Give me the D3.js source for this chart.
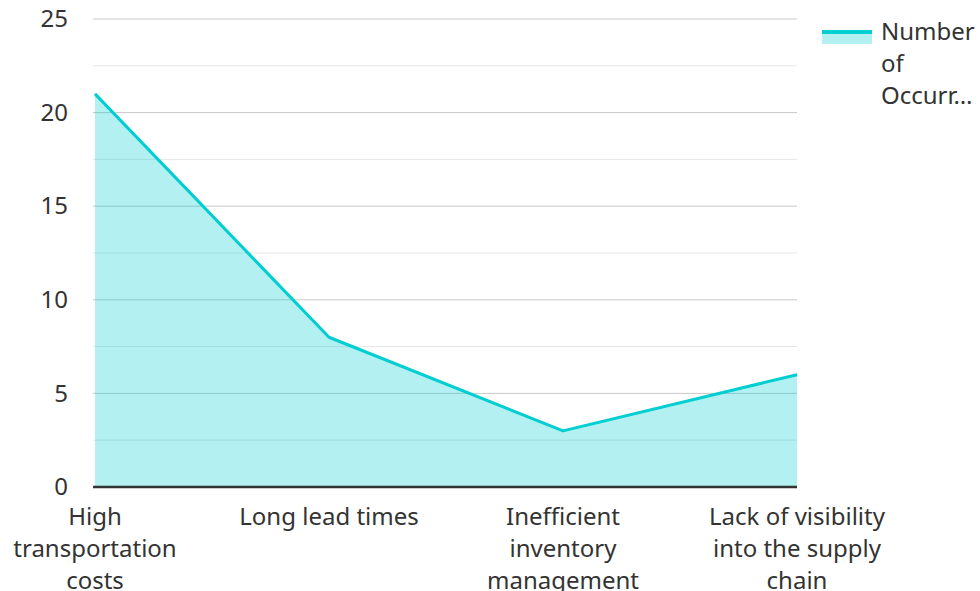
<!DOCTYPE html>
<html lang="en">
<head>
  <meta charset="UTF-8">
  <title>Number of Occurrences</title>
  <script src="https://d3js.org/d3.v7.min.js"></script>
  <style>
    body { margin: 0; background: #fff; }
    text { font-family: "Noto Sans", sans-serif; fill: #333; }
  </style>
</head>
<body>
  <div id="chart"></div>
  <script>
    // Data
    const categories = ["High transportation costs", "Long lead times", "Inefficient inventory management", "Lack of visibility into the supply chain"];
    const occurrences = [21, 8, 3, 6];
    const seriesName = "Number of Occurrences";
    const yTicks = [0, 5, 10, 15, 20, 25];
    const yMinorTicks = [2.5, 7.5, 12.5, 17.5, 22.5];

    const W = 980, H = 591;
    const plot = { left: 95, right: 797, top: 19, bottom: 487 };
    const lineColor = "#00CED1";

    const svg = d3.select("#chart").append("svg")
      .attr("width", W)
      .attr("height", H);

    const x = d3.scalePoint().domain(categories).range([plot.left, plot.right]);
    const y = d3.scaleLinear().domain([0, 25]).range([plot.bottom, plot.top]);

    // grid lines
    svg.append("g").selectAll("line.minor")
      .data(yMinorTicks).enter().append("line")
      .attr("x1", plot.left - 2).attr("x2", plot.right)
      .attr("y1", d => y(d)).attr("y2", d => y(d))
      .attr("stroke", "#e6e6e6").attr("stroke-width", 1);

    svg.append("g").selectAll("line.major")
      .data(yTicks.filter(d => d > 0)).enter().append("line")
      .attr("x1", plot.left - 2).attr("x2", plot.right)
      .attr("y1", d => y(d)).attr("y2", d => y(d))
      .attr("stroke", "#c8c8c8").attr("stroke-width", 1);

    const data = categories.map((c, i) => ({ c, v: occurrences[i] }));

    // area + line
    svg.append("path")
      .datum(data)
      .attr("fill", lineColor)
      .attr("fill-opacity", 0.3)
      .attr("d", d3.area().x(d => x(d.c)).y0(y(0)).y1(d => y(d.v)));

    svg.append("path")
      .datum(data)
      .attr("fill", "none")
      .attr("stroke", lineColor)
      .attr("stroke-width", 3)
      .attr("stroke-linejoin", "round")
      .attr("d", d3.line().x(d => x(d.c)).y(d => y(d.v)));

    // y axis labels
    const yAxis = svg.append("g")
      .attr("transform", `translate(${plot.left - 27},0)`)
      .call(d3.axisLeft(y).tickValues(yTicks).tickSize(0).tickPadding(0));
    yAxis.select(".domain").remove();
    yAxis.selectAll("text")
      .style("font-family", "Noto Sans")
      .style("font-size", "24px")
      .attr("fill", "#333");

    // x axis baseline
    svg.append("line")
      .attr("x1", plot.left - 2).attr("x2", plot.right)
      .attr("y1", y(0)).attr("y2", y(0))
      .attr("stroke", "#333").attr("stroke-width", 2.5);

    // wrap words into lines that fit maxW
    function wrapLines(str, maxW, fontSize) {
      const tmp = svg.append("text").style("font-size", fontSize + "px");
      const words = str.split(" ");
      const lines = [];
      let cur = "";
      words.forEach(w => {
        const test = cur ? cur + " " + w : w;
        tmp.text(test);
        if (tmp.node().getComputedTextLength() > maxW && cur) {
          lines.push(cur);
          cur = w;
        } else cur = test;
      });
      if (cur) lines.push(cur);
      tmp.remove();
      return lines;
    }

    // x axis labels
    const xFont = 24;
    categories.forEach(c => {
      const lines = wrapLines(c, 200, xFont);
      const t = svg.append("text")
        .attr("text-anchor", "middle")
        .style("font-size", xFont + "px");
      lines.forEach((l, i) => {
        t.append("tspan")
          .attr("x", x(c))
          .attr("y", 525 + i * 32)
          .text(l);
      });
    });

    // legend
    const lg = svg.append("g");
    lg.append("rect")
      .attr("x", 822).attr("y", 31).attr("width", 50).attr("height", 13)
      .attr("fill", lineColor).attr("fill-opacity", 0.3);
    lg.append("line")
      .attr("x1", 822).attr("x2", 872).attr("y1", 32).attr("y2", 32)
      .attr("stroke", lineColor).attr("stroke-width", 4);

    const legFont = 24, legMaxW = 96;
    let legLines = wrapLines(seriesName, legMaxW, legFont);
    if (legLines.length > 3) legLines = legLines.slice(0, 3);
    // truncate anything that still doesn't fit
    const tmp = svg.append("text").style("font-size", legFont + "px");
    legLines = legLines.map(l => {
      tmp.text(l);
      if (tmp.node().getComputedTextLength() <= legMaxW) return l;
      let s = l;
      while (s.length > 1) {
        s = s.slice(0, -1);
        tmp.text(s + "…");
        if (tmp.node().getComputedTextLength() <= legMaxW) break;
      }
      return s + "…";
    });
    tmp.remove();
    const lt = lg.append("text").style("font-size", legFont + "px");
    legLines.forEach((l, i) => {
      lt.append("tspan").attr("x", 881).attr("y", 40 + i * 32).text(l);
    });
  </script>
</body>
</html>
